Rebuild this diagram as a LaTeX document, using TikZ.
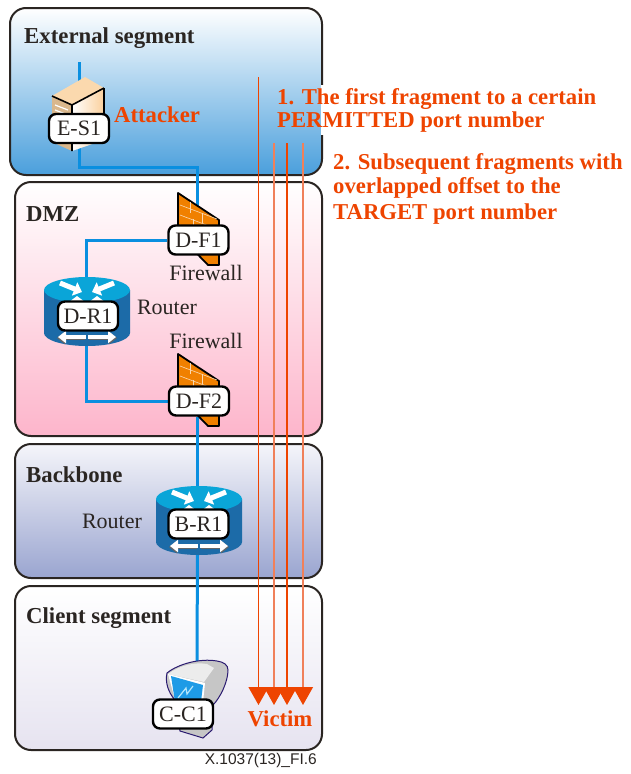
\documentclass[tikz,border=0pt]{standalone}
\usepackage{xcolor}
\usepackage{fontspec}
\setmainfont{Liberation Serif}
\newfontfamily\footerfont{Liberation Sans}
\usetikzlibrary{positioning}
\usetikzlibrary{arrows.meta}
\definecolor{inkdark}{HTML}{2A2522}
\definecolor{linkblue}{HTML}{0A8FE0}
\definecolor{alertred}{HTML}{EE4400}
\definecolor{alertpale}{HTML}{F0805A}
\definecolor{wallorange}{HTML}{F08000}
\definecolor{routertop}{HTML}{0AA5D8}
\definecolor{routerside}{HTML}{1C6BA8}
\definecolor{externalblue}{HTML}{4A9FDC}
\definecolor{dmzpink}{HTML}{FDB5CB}
\definecolor{backbonetop}{HTML}{F5F5FA}
\definecolor{backboneblue}{HTML}{9AA5D0}
\definecolor{clientgrey}{HTML}{E6E3F0}
\definecolor{serverpeach}{HTML}{FBD9AE}
\definecolor{servertan}{HTML}{D9B78C}
\definecolor{pcoutline}{HTML}{2A1A70}
\definecolor{pcscreen}{HTML}{1E9BE6}

\pgfdeclarelayer{segments}
\pgfdeclarelayer{wires}
\pgfsetlayers{segments,wires,main}

\tikzset{
    pics/firewallicon/.style = {code = {
        \draw [black, line width=1.8, fill=wallorange, line join=round]
            (0,0) -- (41,27) -- (41,72) -- (30,72) -- (0,41) -- cycle;
        \foreach \y in {12,22,32,42} {
            \draw [white!70!wallorange, line width=0.6] (2,\y) -- (39,\y+14);
        }
        \draw [white!70!wallorange, line width=0.6] (12,9) -- (12,20) (24,20) -- (24,30) (15,26) -- (15,36) (32,34) -- (32,44);
    }},
    pics/routericon/.style = {code = {
        \fill [routerside] (-43,0) -- (-43,43) arc [start angle=180, end angle=0, x radius=43, y radius=13] -- (43,0) -- cycle;
        \fill [routertop] (0,0) ellipse [x radius=43, y radius=13];
        \foreach \s in {-1,1} {
            \draw [white, line width=5, -{Triangle[length=8,width=14]}] (\s*27,-7) -- (\s*5,2);
            \draw [white, line width=5, -{Triangle[length=5,width=13]}] (\s*10,12) -- (\s*10,6);
            \draw [black!60, line width=4, -{Triangle[length=8,width=12]}] (\s*2,48) -- (\s*30,48);
            \draw [white, line width=4, -{Triangle[length=8,width=12]}] (\s*1,47) -- (\s*29,47);
        }
    }},
}

\begin{document}
\begin{tikzpicture}[x=1pt, y=-1pt]
    \tikzstyle{segbox} = [draw=inkdark, line width=2, rounded corners=16];
    \tikzstyle{seglabel} = [anchor=west, inner sep=0, text=inkdark, font=\fontsize{22.8}{24}\selectfont\bfseries];
    \tikzstyle{devlabel} = [draw=black, line width=2.4, fill=white, rounded corners=7, minimum width=60, minimum height=29, inner sep=0, text=inkdark, font=\fontsize{22}{24}\selectfont];
    \tikzstyle{kindlabel} = [inner sep=0, text=inkdark, font=\fontsize{22}{24}\selectfont];
    \tikzstyle{alertlabel} = [anchor=west, inner sep=0, text=alertred, font=\fontsize{22.7}{23}\selectfont\bfseries];
    \tikzstyle{link} = [draw=linkblue, line width=3];
    \tikzstyle{flow} = [alertred, line width=1.2, -{Triangle[length=18, width=20]}];
    \tikzstyle{flowpale} = [flow, draw=alertpale, -{Triangle[length=18, width=20, fill=alertred, color=alertred]}];
    \useasboundingbox (0,0) rectangle (630,774);

    % segments
    \begin{pgfonlayer}{segments}
    \fill [white] (0,0) rectangle (630,774);
    \draw [segbox, top color=white, bottom color=externalblue] (10,8) rectangle (322,175);
    \draw [segbox, top color=white, bottom color=dmzpink] (15,182) rectangle (322,436);
    \draw [segbox, top color=backbonetop, bottom color=backboneblue] (15,444) rectangle (322,578);
    \draw [segbox, top color=white, bottom color=clientgrey] (15,586) rectangle (322,750);
    \fill [white] (320.5,85) rectangle (324,135);
    \end{pgfonlayer}

    \node [seglabel] (external) at (24,38) {External segment};
    \node [seglabel] (dmz) at (26,214) {DMZ};
    \node [seglabel] (backbone) at (26,475) {Backbone};
    \node [seglabel] (client) at (26,618) {Client segment};

    % icons
    \pic at (178,193) {firewallicon};
    \pic at (178,354) {firewallicon};
    \pic at (87,290) {routericon};
    \pic at (199,499) {routericon};

    % server
    \fill [serverpeach] (52,96) -- (85,77) -- (104,88) -- (72,105) -- cycle;
    \shade [left color=white, right color=serverpeach!90!orange] (72,105) -- (104,88) -- (104,140) -- (72,151) -- cycle;
    \fill [servertan] (52,96) -- (72,105) -- (72,151) -- (52,142) -- cycle;
    \draw [white, line width=1.2] (55,105) -- (68,110) (55,110) -- (68,115);
    \draw [black, line width=1.6] (104,88) -- (104,140) (104,88) -- (72,105) -- (72,151) (52,96) -- (72,105);

    % client
    \draw [pcoutline, line width=1, fill=gray!45] (167,673) .. controls (178,664) and (200,658) .. (217,661) .. controls (224,662) and (228,665) .. (228,670) .. controls (228,682) and (220,698) .. (213,705) -- (212,730) -- (203,738) -- (180,731) -- (175,700) .. controls (168,692) and (165,682) .. (167,673) -- cycle;
    \fill [gray!15] (168,674) .. controls (180,665) and (195,662) .. (207,664) -- (214,668) -- (204,682) -- cycle;
    \fill [white] (168,674) -- (205,683) -- (202,712) -- (176,703) -- cycle;
    \fill [pcscreen] (171,676) -- (203,685) -- (200,710) -- (175,702) -- cycle;
    \draw [white!70!cyan, line width=1.2] (178,698) -- (186,688) -- (187,694) -- (193,686);

    % nodes on the icons
    \node [devlabel] (ES1) at (79,128.5) {E-S1};
    \node [devlabel] (DF1) at (198.5,240) {D-F1};
    \node [devlabel] (DF2) at (199,401) {D-F2};
    \node [devlabel] (DR1) at (88,316) {D-R1};
    \node [devlabel] (BR1) at (198.5,524) {B-R1};
    \node [devlabel] (CC1) at (183,714) {C-C1};

    \node [kindlabel] (fw1) at (206,273) {Firewall};
    \node [kindlabel] (fw2) at (206,341) {Firewall};
    \node [kindlabel] (rt1) at (167,307) {Router};
    \node [kindlabel] (rt2) at (112,521) {Router};

    % links
    \coordinate (feed) at (79,62);
    \coordinate (bendA) at (79,167);
    \coordinate (bendB) at (197,167);
    \coordinate (pcin) at (197,668);
    \begin{pgfonlayer}{wires}
    \draw [link] (feed) -- (ES1);
    \draw [link] (ES1.south) -- (bendA) -- (bendB) -- (bendB |- DF1.north);
    \draw [link] (DF1.west) -| ([xshift=-2]DR1.north);
    \draw [link] ([xshift=-2]DR1.south) |- (DF2.west);
    \draw [link] ([xshift=-1.5]DF2.south) -- ([xshift=-1]BR1.north);
    \draw [link] ([xshift=-1]BR1.south) -- (pcin);
    \end{pgfonlayer}

    % flows
    \coordinate (f1) at (258.5,77);
    \coordinate (f2) at (274,143);
    \coordinate (f3) at (287,143);
    \coordinate (f4) at (303,143);
    \coordinate (v1) at (258.5,705);
    \coordinate (v2) at (274,705);
    \coordinate (v3) at (287,705);
    \coordinate (v4) at (303,705);
    \draw [flow] (f1) -- (v1);
    \draw [flowpale] (f2) -- (v2);
    \draw [flow] (f3) -- (v3);
    \draw [flowpale] (f4) -- (v4);

    \node [alertlabel] (attacker) at (114,115) {Attacker};
    \node [alertlabel, anchor=center] (victim) at (280,719) {Victim};
    \node [alertlabel, align=left] (first) at (277,110.5) {1. The first fragment to a certain\\PERMITTED port number};
    \node [alertlabel, align=left] (second) at (333,189) {2. Subsequent fragments with\\[1pt]overlapped offset to the\\[3pt]TARGET port number};

    \node [anchor=east, inner sep=0, text=inkdark, font=\fontsize{15.5}{18}\selectfont\footerfont] (figno) at (317,760) {X.1037(13)\_FI.6};
\end{tikzpicture}
\end{document}
